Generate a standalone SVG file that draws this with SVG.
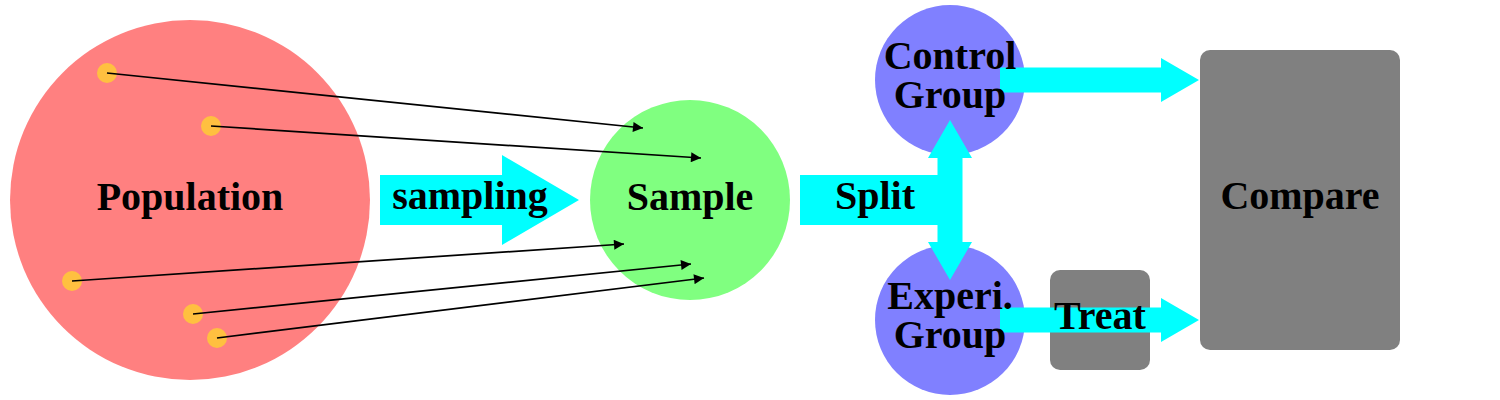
<svg xmlns="http://www.w3.org/2000/svg" width="1500" height="400" viewBox="0 0 1500 400">
<defs>
<style>
.lbl{font-family:"Liberation Serif","Times New Roman",serif;font-weight:bold;font-size:40px;fill:#000;text-anchor:middle}
.dot{fill:#FFC040}
.ln{stroke:#000;stroke-width:1.7;fill:none;marker-end:url(#ah)}
.big{fill:#00FFFF}
.box{fill:#808080}
</style>
<marker id="ah" viewBox="0 0 10 10" refX="10" refY="5" markerWidth="11" markerHeight="10" markerUnits="userSpaceOnUse" orient="auto">
<path d="M0,0 L10,5 L0,10 z" fill="#000"/>
</marker>
</defs>
<rect width="1500" height="400" fill="#fff"/>
<g id="population">
<circle cx="190" cy="200" r="180" fill="#FF8080"/>
<circle class="dot" cx="107" cy="73" r="10"/>
<circle class="dot" cx="211" cy="126" r="10"/>
<circle class="dot" cx="72" cy="281" r="10"/>
<circle class="dot" cx="193" cy="314" r="10"/>
<circle class="dot" cx="217" cy="338" r="10"/>
<text class="lbl" x="190" y="210">Population</text>
</g>
<g id="sample">
<circle cx="690" cy="200" r="100" fill="#80FF80"/>
<text class="lbl" x="690" y="210">Sample</text>
</g>
<g id="control">
<circle cx="950" cy="80" r="75" fill="#8080FF"/>
</g>
<g id="experi">
<circle cx="950" cy="320" r="75" fill="#8080FF"/>
</g>
<g id="treat">
<rect class="box" x="1050" y="270" width="100" height="100" rx="10"/>
</g>
<g id="compare">
<rect class="box" x="1200" y="50" width="200" height="300" rx="10"/>
<text class="lbl" x="1300" y="209">Compare</text>
</g>
<g id="connectors">
<line class="ln" x1="107" y1="73" x2="643" y2="128"/>
<line class="ln" x1="211" y1="126" x2="701" y2="158"/>
<line class="ln" x1="72" y1="281" x2="624" y2="244"/>
<line class="ln" x1="193" y1="314" x2="691" y2="264"/>
<line class="ln" x1="217" y1="338" x2="704" y2="278"/>
<polygon class="big" points="380,175 502,175 502,155 579,200 502,245 502,225 380,225"/>
<text class="lbl" x="470" y="209">sampling</text>
<polygon class="big" points="800,175 937.5,175 937.5,158 928,158 950,120 972,158 962.5,158 962.5,242 972,242 950,280 928,242 937.5,242 937.5,225 800,225"/>
<text class="lbl" x="875" y="209">Split</text>
<polygon class="big" points="1000,67.5 1161,67.5 1161,58 1199,80 1161,102 1161,92.5 1000,92.5"/>
<polygon class="big" points="1000,307.5 1161,307.5 1161,298 1199,320 1161,342 1161,332.5 1000,332.5"/>
</g>
<g id="labels">
<text class="lbl" x="950" y="69">Control</text>
<text class="lbl" x="950" y="108">Group</text>
<text class="lbl" x="950" y="309">Experi.</text>
<text class="lbl" x="950" y="348">Group</text>
<text class="lbl" x="1100" y="329">Treat</text>
</g>
</svg>
